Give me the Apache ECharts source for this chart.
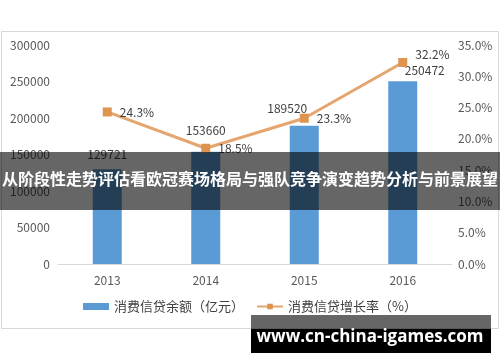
<!DOCTYPE html>
<html><head><meta charset="utf-8">
<script src="https://cdn.jsdelivr.net/npm/echarts@6/dist/echarts.min.js"></script>
<style>html,body{margin:0;padding:0;background:#fff}#c{width:500px;height:362px}</style>
</head><body><div id="c"></div>
<script>
var categories = ['2013', '2014', '2015', '2016'];
var creditBalance = [129721, 153660, 189520, 250472];
var growthRate = [24.3, 18.5, 23.3, 32.2];
var leftTicks = [0, 50000, 100000, 150000, 200000, 250000, 300000];
var rightTicks = [0, 5, 10, 15, 20, 25, 30, 35];
var seriesNames = ['消费信贷余额（亿元）', '消费信贷增长率（%）'];
var bannerTitle = '从阶段性走势评估看欧冠赛场格局与强队竞争演变趋势分析与前景展望';
var watermark = 'www.cn-china-igames.com';

var barLabelOffsets = [[0, -4], [0, -10], [-17, -6], [22, 0]];
var font = '"Microsoft YaHei","Noto Sans CJK SC",sans-serif';

var chart = echarts.init(document.getElementById('c'));
chart.setOption({
  animation: false,
  textStyle: { fontFamily: font },
  grid: { left: 58, right: 48, top: 45, bottom: 98 },
  legend: {
    bottom: 44, left: 'center', itemGap: 12, itemWidth: 26, itemHeight: 7,
    textStyle: { fontSize: 13, color: '#404040', fontFamily: font },
    data: [
      { name: seriesNames[0], icon: 'rect' },
      { name: seriesNames[1] }
    ]
  },
  xAxis: {
    type: 'category', data: categories,
    axisLine: { lineStyle: { color: '#D9D9D9' } },
    axisTick: { show: false },
    axisLabel: { color: '#595959', fontSize: 12, margin: 10 }
  },
  yAxis: [
    { type: 'value', min: leftTicks[0], max: leftTicks[leftTicks.length - 1], interval: leftTicks[1] - leftTicks[0],
      splitLine: { show: false }, axisLine: { show: false }, axisTick: { show: false },
      axisLabel: { color: '#595959', fontSize: 12, margin: 8, formatter: function (v) { return String(v); } } },
    { type: 'value', min: rightTicks[0], max: rightTicks[rightTicks.length - 1], interval: rightTicks[1] - rightTicks[0],
      splitLine: { show: false }, axisLine: { show: false }, axisTick: { show: false },
      axisLabel: { color: '#595959', fontSize: 12, margin: 6, formatter: function (v) { return v.toFixed(1) + '%'; } } }
  ],
  series: [
    { name: seriesNames[0], type: 'bar', barWidth: 29,
      itemStyle: { color: '#5B9BD5' },
      data: creditBalance.map(function (v, i) {
        return { value: v, label: { show: true, position: 'top', offset: barLabelOffsets[i], color: '#404040', fontSize: 12, formatter: function (p) { return String(p.value); } } };
      })
    },
    { name: seriesNames[1], type: 'line', yAxisIndex: 1,
      symbol: 'rect', symbolSize: 9,
      lineStyle: { color: '#E5A56E', width: 3 },
      itemStyle: { color: '#DE944F' },
      label: { show: true, position: 'right', distance: 8, color: '#404040', fontSize: 12,
        formatter: function (p) { return p.value.toFixed(1) + '%'; } },
      data: growthRate.map(function (v, i) {
        return i === 3 ? { value: v, label: { offset: [0, -8] } } : v;
      }),
      z: 5
    }
  ],
  graphic: [
    { type: 'rect', shape: { x: 1.5, y: 31.5, width: 497, height: 297 },
      style: { fill: 'none', stroke: '#D9D9D9', lineWidth: 1 }, z: 1, silent: true },
    { type: 'rect', shape: { x: 0, y: 152, width: 500, height: 58 },
      style: { fill: 'rgba(0,0,0,0.6)' }, z: 100 },
    { type: 'text', x: 250, y: 179, z: 101,
      style: { text: bannerTitle, fill: '#fff', font: 'bold 16px ' + font, textAlign: 'center', textVerticalAlign: 'middle' } },
    { type: 'rect', shape: { x: 251, y: 315, width: 240, height: 14 },
      style: { fill: 'rgba(0,0,0,0.6)' }, z: 100 },
    { type: 'rect', shape: { x: 251, y: 329, width: 240, height: 24 },
      style: { fill: '#000' }, z: 100 },
    { type: 'text', x: 370, y: 337, z: 101,
      style: { text: watermark, fill: '#fff', font: 'bold 17px "Open Sans",sans-serif', textAlign: 'center', textVerticalAlign: 'middle' } }
  ]
});
</script></body></html>
